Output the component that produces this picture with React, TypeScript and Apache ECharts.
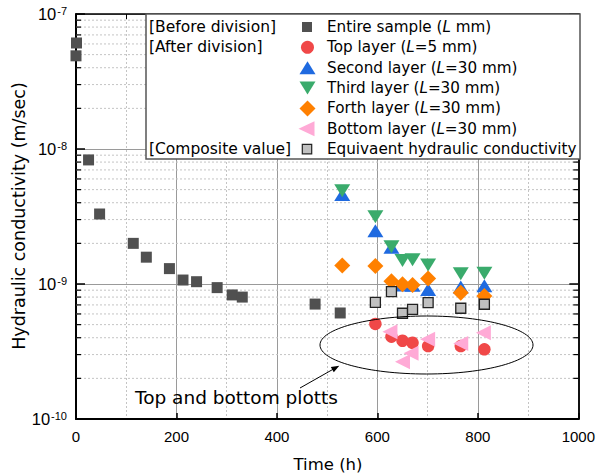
import React, { useEffect, useRef } from "react";
import * as echarts from "echarts";

// ---- data (time in h, hydraulic conductivity in m/sec) ----
const entireTime = [0, 1, 25, 47, 114, 140, 186, 213, 240, 281, 311, 331, 476, 526];
const entireK = [4.9e-8, 6.1e-8, 8.3e-9, 3.3e-9, 2.0e-9, 1.58e-9, 1.3e-9, 1.07e-9, 1.04e-9, 9.4e-10, 8.3e-10, 8.0e-10, 7.1e-10, 6.1e-10];

const layerTime = [530, 596, 628, 650, 670, 701, 766, 813];
const secondK = [4.6e-9, 2.48e-9, 1.87e-9, 9.85e-10, 9.8e-10, 9.1e-10, 9.5e-10, 9.7e-10];
const thirdK = [4.9e-9, 3.15e-9, 1.89e-9, 1.49e-9, 1.51e-9, 1.38e-9, 1.19e-9, 1.2e-9];
const forthK = [1.37e-9, 1.36e-9, 1.05e-9, 9.95e-10, 9.85e-10, 1.1e-9, 8.6e-10, 8.15e-10];

const topTime = [596, 628, 650, 670, 701, 766, 813];
const topK = [5.06e-10, 4.07e-10, 3.8e-10, 3.67e-10, 3.47e-10, 3.47e-10, 3.28e-10];

const bottomTime = [625, 650, 667, 700, 766, 811];
const bottomK = [4.43e-10, 2.66e-10, 3.07e-10, 3.89e-10, 3.63e-10, 4.36e-10];

const equivTime = [596, 628, 650, 670, 701, 766, 813];
const equivK = [7.32e-10, 8.77e-10, 6.07e-10, 6.49e-10, 7.27e-10, 6.61e-10, 7.08e-10];

const minorGridValues = [
  2e-10, 3e-10, 4e-10, 5e-10, 6e-10, 7e-10, 8e-10, 9e-10,
  2e-9, 3e-9, 4e-9, 5e-9, 6e-9, 7e-9, 8e-9, 9e-9,
  2e-8, 3e-8, 4e-8, 5e-8, 6e-8, 7e-8, 8e-8, 9e-8,
];

const legendNames = [
  "Entire sample (L mm)",
  "Top layer (L=5 mm)",
  "Second layer (L=30 mm)",
  "Third layer (L=30 mm)",
  "Forth layer (L=30 mm)",
  "Bottom layer (L=30 mm)",
  "Equivaent hydraulic conductivity",
];
const legendGroupLabels = ["[Before division]", "[After division]", "", "", "", "", "[Composite value]"];

const xAxisTitle = "Time (h)";
const yAxisTitle = "Hydraulic conductivity (m/sec)";
const annotationText = "Top and bottom plotts";

// ---- styles ----
const FONT = '"DejaVu Sans", sans-serif';
const NUMFONT = '"Liberation Sans", Arial, sans-serif';
const DARK = "#505050";
const RED = "#f04848";
const BLUE = "#1f6ae0";
const GREEN = "#3aab6c";
const ORANGE = "#ff8000";
const PINK = "#ffaad6";
const LIGHT = "#c0c0c0";

function pairs(xs: number[], ys: number[]) {
  return xs.map((x, i) => [x, ys[i]]);
}

function richLegendText(s: string) {
  const idx = s.indexOf("L");
  if (idx < 0 || s.indexOf("(") < 0) return `{n|${s}}`;
  return `{n|${s.slice(0, idx)}}{i|L}{n|${s.slice(idx + 1)}}`;
}

function buildGraphic() {
  const els: any[] = [];
  const boxX = 146, boxY = 14, boxW = 434, boxH = 145;
  els.push({
    type: "rect",
    z: 100,
    shape: { x: boxX, y: boxY, width: boxW, height: boxH },
    style: { fill: "#fff", stroke: "#555", lineWidth: 1.5 },
  });
  const rowY = (i: number) => 27 + i * 20.35;
  const sx = 307.5;
  legendNames.forEach((name, i) => {
    const y = rowY(i);
    let sym: any;
    if (i === 0) sym = { type: "rect", shape: { x: sx - 5.5, y: y - 5, width: 10, height: 10 }, style: { fill: DARK } };
    else if (i === 1) sym = { type: "circle", shape: { cx: sx, cy: y, r: 6.5 }, style: { fill: RED } };
    else if (i === 2) sym = { type: "polygon", shape: { points: [[sx - 8, y + 6.5], [sx + 8, y + 6.5], [sx, y - 6.5]] }, style: { fill: BLUE } };
    else if (i === 3) sym = { type: "polygon", shape: { points: [[sx - 8, y - 6.5], [sx + 8, y - 6.5], [sx, y + 6.5]] }, style: { fill: GREEN } };
    else if (i === 4) sym = { type: "polygon", shape: { points: [[sx, y - 8], [sx + 8, y], [sx, y + 8], [sx - 8, y]] }, style: { fill: ORANGE } };
    else if (i === 5) sym = { type: "polygon", shape: { points: [[sx - 9, y], [sx + 7, y - 7.5], [sx + 7, y + 7.5]] }, style: { fill: PINK } };
    else sym = { type: "rect", shape: { x: sx - 5.2, y: y - 4.7, width: 9.4, height: 9.4 }, style: { fill: LIGHT, stroke: "#222", lineWidth: 1.2 } };
    sym.z = 101;
    els.push(sym);
    els.push({
      type: "text",
      z: 101,
      style: {
        x: 327,
        y,
        text: richLegendText(name),
        verticalAlign: "middle",
        align: "left",
        rich: {
          n: { fontSize: 15.2, fontFamily: FONT, fill: "#000" },
          i: { fontSize: 15.2, fontFamily: FONT, fontStyle: "italic", fill: "#000" },
        },
      },
    });
    if (legendGroupLabels[i]) {
      els.push({
        type: "text",
        z: 101,
        style: {
          x: 149,
          y,
          text: legendGroupLabels[i],
          verticalAlign: "middle",
          align: "left",
          fontSize: 15.5,
          fontFamily: FONT,
          fill: "#000",
        },
      });
    }
  });

  els.push({
    type: "ellipse",
    z: 50,
    shape: { cx: 426.5, cy: 345, rx: 106.5, ry: 29 },
    style: { fill: "none", stroke: "#000", lineWidth: 1 },
  });
  els.push({
    type: "line",
    z: 50,
    shape: { x1: 300, y1: 388, x2: 333, y2: 369.3 },
    style: { stroke: "#000", lineWidth: 1 },
  });
  els.push({
    type: "polygon",
    z: 50,
    shape: { points: [[339.3, 365.7], [333.8, 372.2], [330.8, 367.0]] },
    style: { fill: "#000" },
  });
  els.push({
    type: "text",
    z: 50,
    style: {
      x: 135,
      y: 397,
      text: annotationText,
      verticalAlign: "middle",
      align: "left",
      fontSize: 18.5,
      fontFamily: FONT,
      fill: "#000",
    },
  });
  els.push({
    type: "text",
    z: 50,
    x: 19,
    y: 216,
    rotation: Math.PI / 2,
    style: {
      x: 0,
      y: 0,
      text: yAxisTitle,
      align: "center",
      verticalAlign: "middle",
      fontSize: 17.5,
      fontFamily: FONT,
      fill: "#000",
    },
  });
  els.push({
    type: "text",
    z: 50,
    style: {
      x: 328,
      y: 464,
      text: xAxisTitle,
      align: "center",
      verticalAlign: "middle",
      fontSize: 16.5,
      fontFamily: FONT,
      fill: "#000",
    },
  });
  return els;
}

export default function App() {
  const ref = useRef<HTMLDivElement>(null);
  useEffect(() => {
    if (!ref.current) return;
    const chart = echarts.init(ref.current, null, { renderer: "svg" });
    const yLabelRich = {
      b: { fontSize: 16.5, fontFamily: NUMFONT, color: "#000", verticalAlign: "top", lineHeight: 17 },
      s: { fontSize: 11, fontFamily: NUMFONT, color: "#000", verticalAlign: "top", lineHeight: 11, padding: [0, 0, 0, 1] },
    };
    const option: any = {
      animation: false,
      backgroundColor: "#fff",
      grid: { left: 76, right: 19, top: 14, bottom: 56, containLabel: false },
      xAxis: [
        {
          type: "value",
          min: 0,
          max: 1000,
          interval: 200,
          position: "bottom",
          axisLine: { show: true, onZero: false, lineStyle: { color: "#000", width: 2 } },
          axisTick: { show: true, inside: true, length: 6, lineStyle: { color: "#000", width: 1.5 } },
          axisLabel: {
            show: true,
            margin: 10,
            fontSize: 15,
            fontFamily: NUMFONT,
            color: "#000",
            formatter: (v: number) => String(v),
          },
          splitLine: { show: true, lineStyle: { color: "#9a9a9a", width: 1 } },
          minorTick: { show: false, splitNumber: 2 },
          minorSplitLine: { show: true, lineStyle: { color: "#c4c4c4", width: 1, type: [2, 2] } },
        },
        {
          type: "value",
          min: 0,
          max: 1000,
          interval: 100,
          position: "top",
          axisLine: { show: true, onZero: false, lineStyle: { color: "#000", width: 1.5 } },
          axisTick: { show: true, inside: true, length: 5, lineStyle: { color: "#000", width: 1 } },
          axisLabel: { show: false },
          splitLine: { show: false },
        },
      ],
      yAxis: [
        {
          type: "log",
          logBase: 10,
          min: 1e-10,
          max: 1e-7,
          position: "left",
          axisLine: { show: true, onZero: false, lineStyle: { color: "#000", width: 2 } },
          axisTick: { show: true, inside: true, length: 9, lineStyle: { color: "#000", width: 1.5 } },
          axisLabel: {
            show: true,
            margin: 9,
            showMinLabel: true,
            showMaxLabel: true,
            formatter: (v: number) => {
              const e = Math.round(Math.log10(v));
              return `{b|10}{s|-${Math.abs(e)}}`;
            },
            rich: yLabelRich,
          },
          splitLine: { show: true, lineStyle: { color: "#9a9a9a", width: 1 } },
        },
        {
          type: "log",
          logBase: 10,
          min: 1e-10,
          max: 1e-7,
          position: "right",
          axisLine: { show: true, onZero: false, lineStyle: { color: "#111", width: 2 } },
          axisTick: { show: true, inside: true, length: 9, lineStyle: { color: "#000", width: 1.5 } },
          axisLabel: { show: false },
          splitLine: { show: false },
        },
      ],
      graphic: buildGraphic(),
      series: [
        {
          type: "custom",
          name: "minor-grid",
          xAxisIndex: 0,
          yAxisIndex: 0,
          z: 1,
          silent: true,
          clip: false,
          encode: { x: 0, y: 1 },
          data: minorGridValues.map((v) => [0, v]),
          renderItem: (params: any, api: any) => {
            const cs = params.coordSys;
            const y = api.coord([0, api.value(1)])[1];
            return {
              type: "group",
              children: [
                { type: "line", shape: { x1: cs.x, y1: y, x2: cs.x + cs.width, y2: y }, style: { stroke: "#c4c4c4", lineWidth: 1, lineDash: [2, 2] } },
                { type: "line", shape: { x1: cs.x, y1: y, x2: cs.x + 5, y2: y }, style: { stroke: "#000", lineWidth: 1.2 } },
                { type: "line", shape: { x1: cs.x + cs.width - 5, y1: y, x2: cs.x + cs.width, y2: y }, style: { stroke: "#000", lineWidth: 1.2 } },
              ],
            };
          },
        },
        {
          type: "scatter",
          name: legendNames[0],
          symbol: "rect",
          symbolSize: 11,
          itemStyle: { color: DARK, opacity: 1 },
          data: pairs(entireTime, entireK),
        },
        {
          type: "scatter",
          name: legendNames[1],
          symbol: "circle",
          symbolSize: 12.5,
          itemStyle: { color: RED, opacity: 1 },
          data: pairs(topTime, topK),
        },
        {
          type: "scatter",
          name: legendNames[2],
          symbol: "triangle",
          symbolSize: [16, 13],
          itemStyle: { color: BLUE, opacity: 1 },
          data: pairs(layerTime, secondK),
        },
        {
          type: "scatter",
          name: legendNames[3],
          symbol: "triangle",
          symbolRotate: 180,
          symbolSize: [16, 13],
          itemStyle: { color: GREEN, opacity: 1 },
          data: pairs(layerTime, thirdK),
        },
        {
          type: "scatter",
          name: legendNames[4],
          symbol: "diamond",
          symbolSize: 16,
          itemStyle: { color: ORANGE, opacity: 1 },
          data: pairs(layerTime, forthK),
        },
        {
          type: "scatter",
          name: legendNames[5],
          symbol: "triangle",
          symbolRotate: 90,
          symbolSize: [15, 15],
          itemStyle: { color: PINK, opacity: 1 },
          data: pairs(bottomTime, bottomK),
        },
        {
          type: "scatter",
          name: legendNames[6],
          symbol: "rect",
          symbolSize: 10,
          itemStyle: { color: LIGHT, borderColor: "#222", borderWidth: 1.3, opacity: 1 },
          data: pairs(equivTime, equivK),
        },
      ],
    };
    chart.setOption(option);
    return () => chart.dispose();
  }, []);
  return (
    <div
      ref={ref}
      style={{ position: "absolute", left: 0, top: 0, width: 598, height: 475 }}
    />
  );
}
